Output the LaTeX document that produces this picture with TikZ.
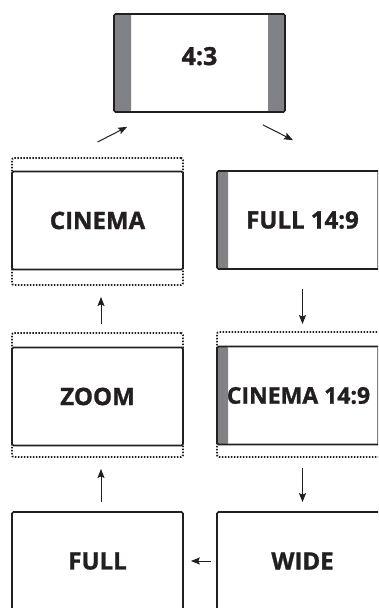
\documentclass[tikz,border=0pt]{standalone}
\usepackage{fontspec}
\setmainfont{Open Sans}[BoldFeatures={FakeBold=1.2}]
\usetikzlibrary{arrows.meta,positioning,calc}
\definecolor{tvblack}{RGB}{35,31,32}
\definecolor{bargray}{RGB}{128,130,133}
\begin{document}
\begin{tikzpicture}[x=1pt,y=-1pt,
  screen/.style={draw=tvblack, line width=1.7pt, rounded corners=1.5pt, fill=white,
    minimum width=171pt, minimum height=98pt, inner sep=0pt, text=tvblack,
    font=\bfseries\fontsize{24}{24}\selectfont},
  pillars/.style={path picture={
    \fill[bargray] (path picture bounding box.north west) rectangle ([xshift=#1]path picture bounding box.south west);
    \fill[bargray] (path picture bounding box.north east) rectangle ([xshift=-#1]path picture bounding box.south east);}},
  safe/.style={draw=tvblack, line width=1.9pt, dash pattern=on 1.5pt off 1.5pt, rounded corners=2pt,
    minimum width=171pt, inner sep=0pt},
  arr/.style={draw=tvblack, line width=1pt, -{Stealth[length=9pt,width=7pt,inset=1.5pt]}}]
  \useasboundingbox (0,0) rectangle (378,608);
  \clip (0,0) rectangle (378,608);

  % 4:3 at the top
  \node[screen, pillars=17pt, text depth=14pt, font=\bfseries\fontsize{25}{25}\selectfont] (tv) at (199.5,63) {4:3};

  % left column: cinema, zoom, full
  \node[safe, minimum height=127pt] (cinf) at (97.5,221.5) {};
  \node[screen] (cin) at (97.5,220.5) {CINEMA};
  \node[safe, minimum height=124pt] (zoomf) at (97.5,395) {};
  \node[screen] (zoom) at (97.5,396.5) {ZOOM};
  \node[screen] (full) at (97.5,561) {FULL};

  % right column: full 14:9, cinema 14:9, wide
  \node[screen, pillars=11pt] (f149) at (302.5,220) {FULL 14:9};
  \node[safe, minimum height=125pt] (c149f) at (302.5,394.5) {};
  \node[screen, pillars=11pt, font=\bfseries\fontsize{23}{23}\selectfont] (c149) at (302.5,395.5) {\kern-8pt CINEMA 14:9};
  \node[screen] (wide) at (302.5,561) {WIDE};

  % arrows
  \draw[arr] ([yshift=15pt]cinf.north) -- ([xshift=14pt,yshift=-14pt]tv.south west);
  \draw[arr] ([xshift=-23pt,yshift=-12pt]tv.south east) -- ([xshift=-9.5pt,yshift=30pt]f149.north);
  \draw[arr, shorten <=19pt, shorten >=7pt] (f149.south) -- (c149f.north);
  \draw[arr, shorten <=10pt, shorten >=9pt] (c149f.south) -- (wide.north);
  \draw[arr, shorten <=5pt, shorten >=7pt] (wide.west) -- (full.east);
  \draw[arr, shorten <=9pt, shorten >=11pt] ([xshift=3.5pt]full.north) -- ([xshift=3.5pt]zoomf.south);
  \draw[arr, shorten <=8pt, shorten >=11pt] ([xshift=3.5pt]zoomf.north) -- ([xshift=3.5pt]cinf.south);
\end{tikzpicture}
\end{document}
